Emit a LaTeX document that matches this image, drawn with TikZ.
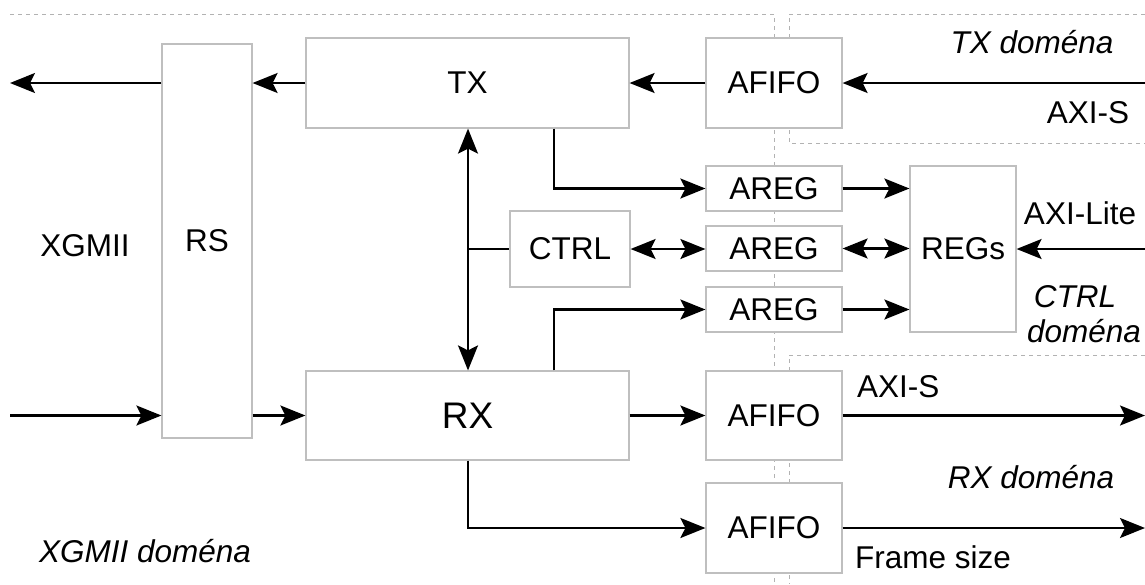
\documentclass[tikz,border=0pt]{standalone}
\usepackage{fontspec}
\setmainfont{Liberation Sans}
\usetikzlibrary{arrows.meta}
\begin{document}
\begin{tikzpicture}[x=1pt,y=-1pt,
  box/.style={draw=gray!50, line width=1.2pt, fill=white, inner sep=0pt, font=\fontsize{31.5}{38}\selectfont},
  lbl/.style={inner sep=0pt, anchor=base, font=\fontsize{31.5}{38}\selectfont},
  ilbl/.style={inner sep=0pt, anchor=base, font=\fontsize{31.5}{38}\selectfont\itshape},
  conn/.style={line width=2.2pt, draw=black},
  arr/.style={conn, -{Stealth[length=25pt,width=20pt,inset=5pt]}},
  arrb/.style={conn, {Stealth[length=25pt,width=20pt,inset=5pt]}-{Stealth[length=25pt,width=20pt,inset=5pt]}},
  dom/.style={draw=gray!60, line width=1pt, dash pattern=on 4pt off 4pt}
]
\useasboundingbox (0,0) rectangle (1145,584);

% domain borders
\draw[dom] (10,14) -- (774,14) -- (774,584);
\draw[dom] (1145,14) -- (789,14) -- (789,143) -- (1145,143);
\draw[dom] (1145,355) -- (789,355) -- (789,584);

% boxes
\node[box, minimum width=90pt, minimum height=394pt] (rs) at (207,241) {RS};
\node[box, minimum width=323pt, minimum height=90pt] (tx) at (467.5,83) {TX};
\node[box, minimum width=136pt, minimum height=90pt] (afifoT) at (774,83) {AFIFO};
\node[box, minimum width=136pt, minimum height=45pt] (areg1) at (774,188.5) {AREG};
\node[box, minimum width=136pt, minimum height=45pt] (areg2) at (774,248.5) {AREG};
\node[box, minimum width=136pt, minimum height=45pt] (areg3) at (774,309.5) {AREG};
\node[box, minimum width=120pt, minimum height=76pt] (ctrl) at (570,249) {CTRL};
\node[box, minimum width=106pt, minimum height=166pt] (regs) at (963,249) {REGs};
\node[box, minimum width=323pt, minimum height=89pt, font=\fontsize{37}{44}\selectfont] (rx) at (467.5,415.5) {RX};
\node[box, minimum width=136pt, minimum height=89pt] (afifoR1) at (774,415.5) {AFIFO};
\node[box, minimum width=136pt, minimum height=90pt] (afifoR2) at (774,528) {AFIFO};

% labels
\node[ilbl] (txd) at (1032,53) {TX doména};
\node[lbl] (axis1) at (1088,123) {AXI-S};
\node[lbl] (axil) at (1080,224) {AXI-Lite};
\node[ilbl] (ctrld) at (1075,307) {CTRL};
\node[ilbl] (ctrld2) at (1084,342) {doména};
\node[lbl] (xgmii) at (85,256) {XGMII};
\node[lbl, anchor=base west] (axis2) at (857,397) {AXI-S};
\node[ilbl] (rxd) at (1031,488) {RX doména};
\node[lbl, anchor=base west] (fs) at (855,568) {Frame size};
\node[ilbl] (xgd) at (145,562) {XGMII doména};

% free ends and bends
\coordinate (outL) at (10,83);
\coordinate (inL) at (10,415.5);
\coordinate (inT) at (1145,83);
\coordinate (inAL) at (1145,249);
\coordinate (outR1) at (1145,415.5);
\coordinate (outR2) at (1145,528);
\coordinate (bus) at (468,249);
\coordinate (side) at (554,249);

% connectors
\draw[arr] (rs.west |- tx.west) -- (outL);
\draw[arr] (tx.west) -- (tx.west -| rs.east);
\draw[arr] (inT) -- (afifoT.east);
\draw[arr] (afifoT.west) -- (tx.east);
\draw[arr] (inL) -- (inL -| rs.west);
\draw[arr] (rs.east |- rx.west) -- (rx.west);
\draw[arrb] (bus |- tx.south) -- (bus |- rx.north);
\draw[conn] (bus) -- (ctrl.west);
\draw[arr] (side |- tx.south) |- (areg1.west);
\draw[arr] (side |- rx.north) |- (areg3.west);
\draw[arrb] (ctrl.east) -- (ctrl.east -| areg2.west);
\draw[arr] (areg1.east) -- (areg1.east -| regs.west);
\draw[arrb] (areg2.east) -- (areg2.east -| regs.west);
\draw[arr] (areg3.east) -- (areg3.east -| regs.west);
\draw[arr] (inAL) -- (regs.east);
\draw[arr] (rx.east) -- (afifoR1.west);
\draw[arr] (bus |- rx.south) |- (afifoR2.west);
\draw[arr] (afifoR1.east) -- (outR1);
\draw[arr] (afifoR2.east) -- (outR2);
\end{tikzpicture}
\end{document}
